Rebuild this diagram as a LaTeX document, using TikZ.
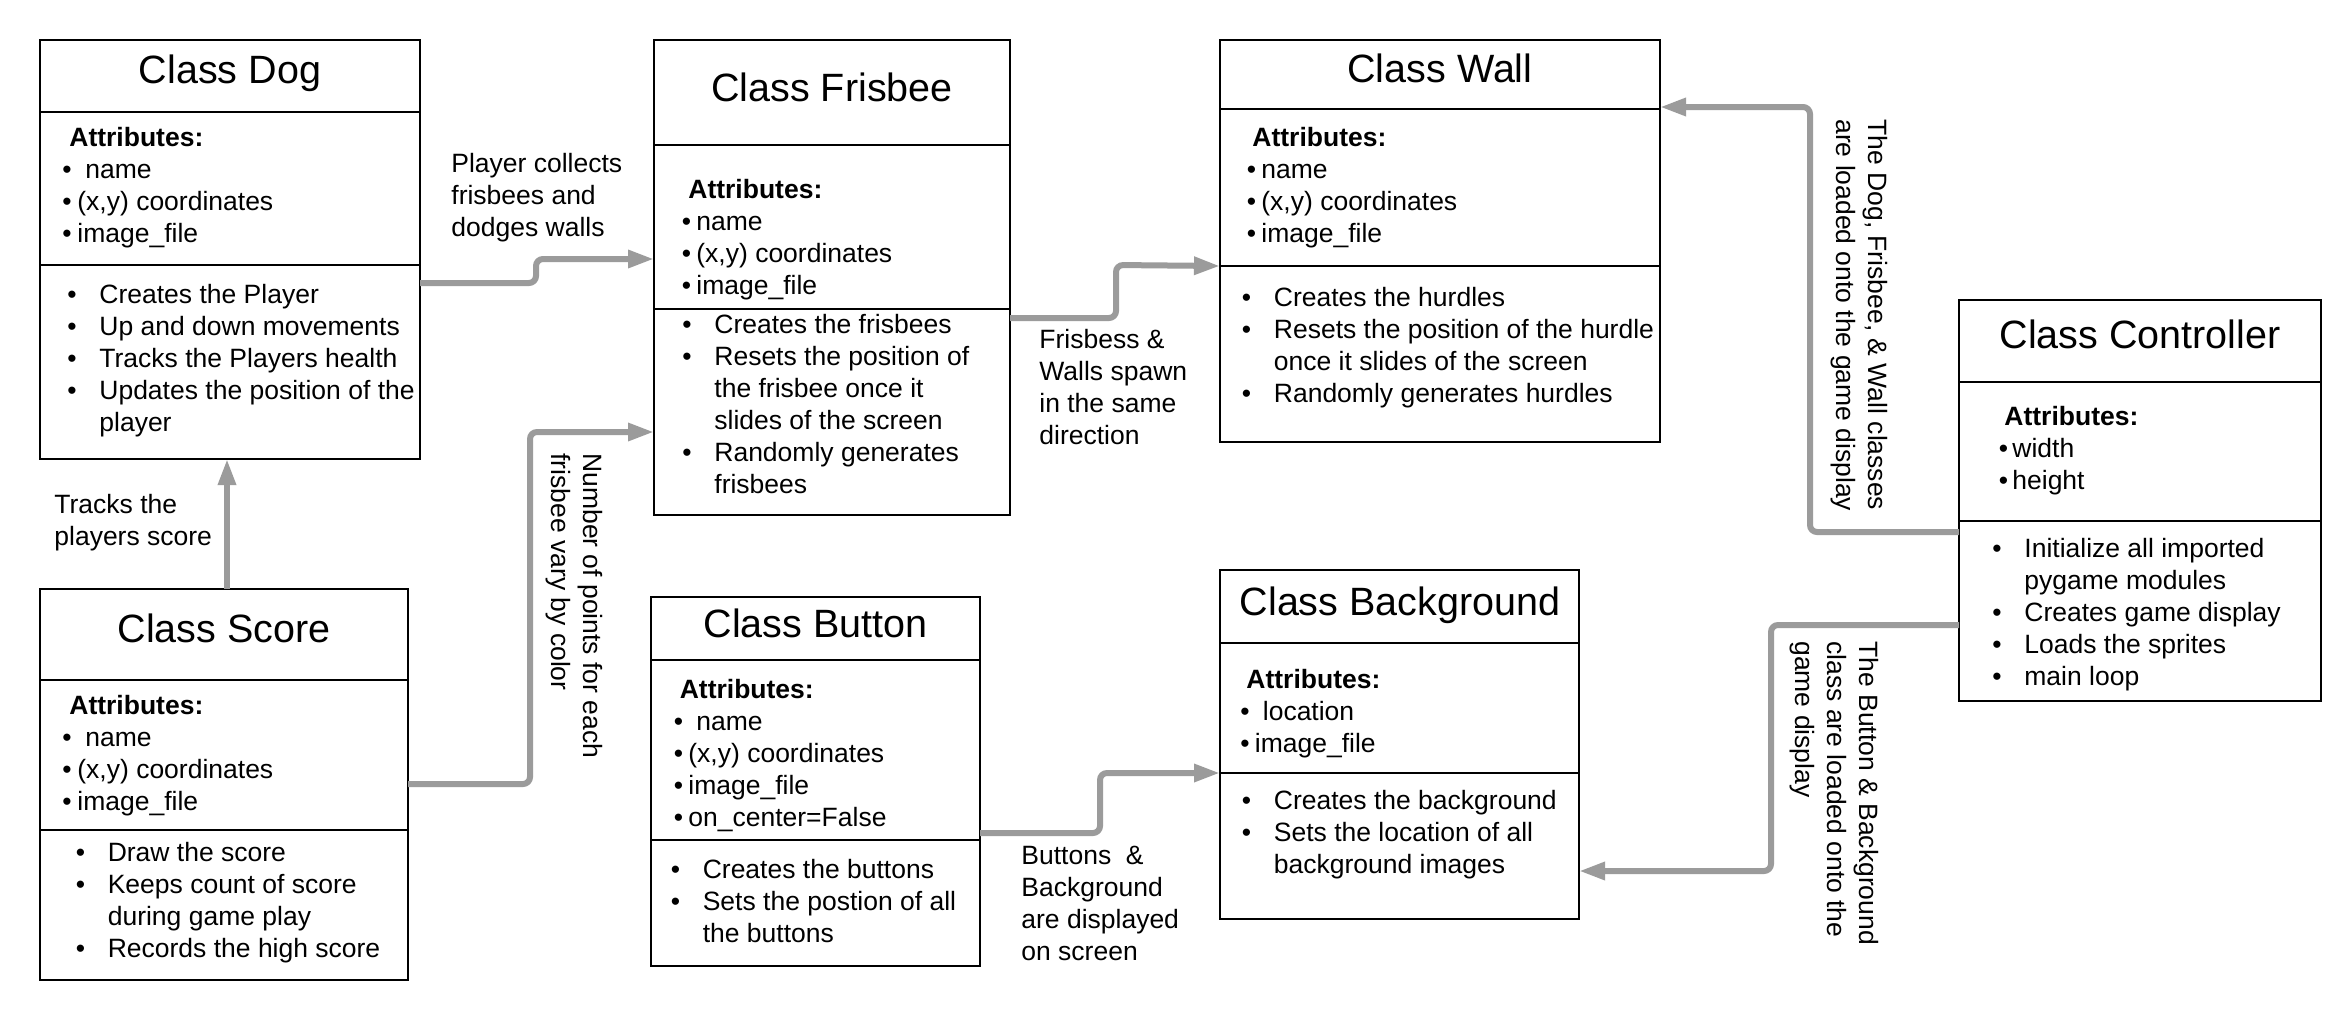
\documentclass[tikz,border=0pt]{standalone}
\usepackage{fontspec}
\setmainfont{Liberation Sans}
\usetikzlibrary{arrows.meta}
\definecolor{arr}{RGB}{155,155,155}
\newcommand\bu[1]{\makebox[#1][l]{•}}
\newcommand\ib[1]{\hspace*{#1}}
\newcommand\bm{\makebox[16pt][l]{•}}
\newcommand\bi{\hspace*{16pt}}
\newcommand\tl[1]{\begin{tabular}[t]{@{}l@{}}#1\end{tabular}}
\newcommand\cbox[7]{%
  \node[cls, minimum width={(#4-#2)*0.5pt}, minimum height={(#5-#3)*0.5pt}, anchor=north west] (#1T) at (#2,#3) {};
  \node[cls, minimum width={(#4-#2)*0.5pt}, minimum height={(#6-#5)*0.5pt}, anchor=north west] (#1A) at (#2,#5) {};
  \node[cls, minimum width={(#4-#2)*0.5pt}, minimum height={(#7-#6)*0.5pt}, anchor=north west] (#1M) at (#2,#6) {};
}
\begin{document}
\begin{tikzpicture}[x=0.5pt,y=-0.5pt,
  cls/.style={draw=black, line width=0.6pt, inner sep=0pt, outer sep=0pt},
  ttl/.style={font=\fontsize{19.75}{24}\selectfont, anchor=base, inner sep=0pt},
  txt/.style={font=\fontsize{13.25}{16}\selectfont, anchor=base west, inner sep=0pt},
  rtxt/.style={txt, rotate=-90},
  hdr/.style={line width=1.2pt},
  conn/.style={draw=arr, line width=3pt, rounded corners=3.5pt, -{Triangle[length=13pt,width=8.5pt]}}]
\fill[white] (0,0) rectangle (2340,1023);
\useasboundingbox (0,0) rectangle (2340,1023);

% class boxes
\cbox{dog}{40}{40}{420}{112}{265}{459}
\cbox{fr}{654}{40}{1010}{145}{309}{515}
\cbox{wa}{1220}{40}{1660}{109}{266}{442}
\cbox{ct}{1959}{300}{2321}{382}{521}{701}
\cbox{bg}{1220}{570}{1579}{643}{773}{919}
\cbox{bu}{651}{597}{980}{660}{840}{966}
\cbox{sc}{40}{589}{408}{680}{830}{980}
\draw[hdr] (dogT.south west) -- (dogT.south east);
\draw[hdr] (frT.south west) -- (frT.south east);
\draw[hdr] (ctT.south west) -- (ctT.south east);

% Dog
\node[ttl] (dogTt) at (230,83) {Class Dog};
\node[txt] (dogAt) at (62,146) {\tl{\ib{3.5pt}\textbf{Attributes:}\\ \bu{11.5pt}name\\ \bu{7.5pt}(x,y) coordinates\\ \bu{7.5pt}image\_file}};
\node[txt] (dogMt) at (67,303) {\tl{\bm Creates the Player\\ \bm Up and down movements\\ \bm Tracks the Players health\\ \bm Updates the position of the\\ \bi player}};

% Frisbee
\node[ttl] (frTt) at (832,101.5) {Class Frisbee};
\node[txt] (frAt) at (681.5,198) {\tl{\ib{3.25pt}\textbf{Attributes:}\\ \bu{7.25pt}name\\ \bu{7.25pt}(x,y) coordinates\\ \bu{7.25pt}image\_file}};
\node[txt] (frMt) at (682,333) {\tl{\bm Creates the frisbees\\ \bm Resets the position of\\ \bi the frisbee once it\\ \bi slides of the screen\\ \bm Randomly generates\\ \bi frisbees}};

% Wall
\node[ttl] (waTt) at (1440,82) {Class Wall};
\node[txt] (waAt) at (1246.5,146) {\tl{\ib{2.75pt}\textbf{Attributes:}\\ \bu{7.25pt}name\\ \bu{7.25pt}(x,y) coordinates\\ \bu{7.25pt}image\_file}};
\node[txt] (waMt) at (1241.5,306) {\tl{\bm Creates the hurdles\\ \bm Resets the position of the hurdle\\ \bi once it slides of the screen\\ \bm Randomly generates hurdles}};

% Controller
\node[ttl] (ctTt) at (2140,348) {Class Controller};
\node[txt] (ctAt) at (1998.5,425) {\tl{\ib{2.75pt}\textbf{Attributes:}\\ \bu{6.75pt}width\\ \bu{6.75pt}height}};
\node[txt] (ctMt) at (1992,557) {\tl{\bm Initialize all imported\\ \bi pygame modules\\ \bm Creates game display\\ \bm Loads the sprites\\ \bm main loop}};

% Background
\node[ttl] (bgTt) at (1400,615) {Class Background};
\node[txt] (bgAt) at (1240,688) {\tl{\ib{3pt}\textbf{Attributes:}\\ \bu{11.25pt}location\\ \bu{7.25pt}image\_file}};
\node[txt] (bgMt) at (1241.5,809) {\tl{\bm Creates the background\\ \bm Sets the location of all\\ \bi background images}};

% Button
\node[ttl] (buTt) at (815.5,637) {Class Button};
\node[txt] (buAt) at (673.4,698) {\tl{\ib{3pt}\textbf{Attributes:}\\ \bu{11.3pt}name\\ \bu{7.3pt}(x,y) coordinates\\ \bu{7.3pt}image\_file\\ \bu{7.3pt}on\_center=False}};
\node[txt] (buMt) at (670.4,878) {\tl{\bm Creates the buttons\\ \bm Sets the postion of all\\ \bi the buttons}};

% Score
\node[ttl] (scTt) at (224,642) {Class Score};
\node[txt] (scAt) at (62,714) {\tl{\ib{3.5pt}\textbf{Attributes:}\\ \bu{11.5pt}name\\ \bu{7.5pt}(x,y) coordinates\\ \bu{7.5pt}image\_file}};
\node[txt] (scMt) at (75.4,861) {\tl{\bm Draw the score\\ \bm Keeps count of score\\ \bi during game play\\ \bm Records the high score}};

% connectors
\draw[conn] (dogM.east |- 0,283) -- (536,283) -- (536,259) -- (frA.west |- 0,259);
\draw[conn] (scA.east |- 0,784) -- (530,784) -- (530,432) -- (frM.west |- 0,432);
\draw[conn] (frM.east |- 0,318) -- (1116,318) -- (1116,265) -- (waA.south west);
\draw[conn] (buA.east |- 0,833) -- (1100,833) -- (1100,773) -- (bgA.south west);
\draw[conn] (ctM.west |- 0,532) -- (1810,532) -- (1810,107) -- (waT.east |- 0,107);
\draw[conn] (ctM.west |- 0,625) -- (1771,625) -- (1771,871) -- (bgM.east |- 0,871);
\draw[conn] (227,0 |- scT.north) -- (227,0 |- dogM.south);

% labels
\node[txt] (l1) at (451,172) {\tl{Player collects\\ frisbees and\\ dodges walls}};
\node[txt] (l2) at (54,513) {\tl{Tracks the\\ players score}};
\node[txt] (l3) at (1039,348) {\tl{Frisbess \&\\ Walls spawn\\ in the same\\ direction}};
\node[txt] (l4) at (1021,864) {\tl{Buttons\ \ \&\\ Background\\ are displayed\\ on screen}};
\node[rtxt] (l5) at (583,453) {\tl{Number of points for each\\ frisbee vary by color}};
\node[rtxt] (l6) at (1868,119) {\tl{The Dog, Frisbee, \& Wall classes\\ are loaded onto the game display}};
\node[rtxt] (l7) at (1859,641) {\tl{The Button \& Background\\ class are loaded onto the\\ game display}};
\end{tikzpicture}
\end{document}
